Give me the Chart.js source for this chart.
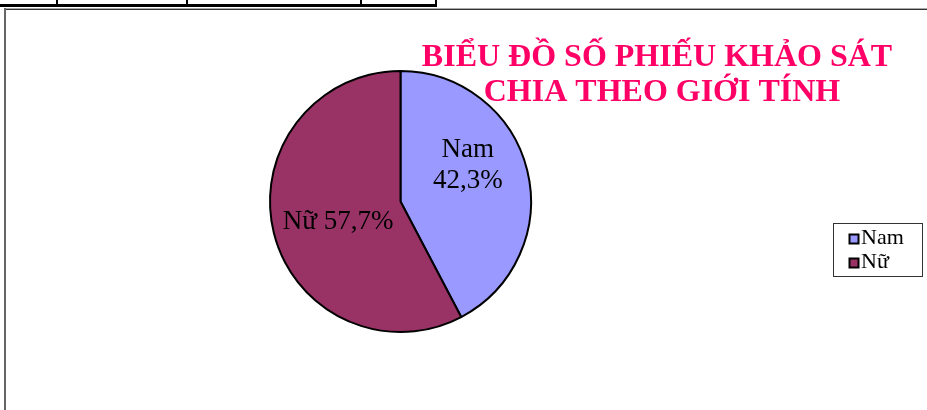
<!DOCTYPE html>
<html>
<head>
<meta charset="utf-8">
<script src="https://cdn.jsdelivr.net/npm/chart.js@4/dist/chart.umd.min.js"></script>
<style>
  html, body { margin: 0; padding: 0; background: #fff; }
  body { width: 927px; height: 410px; position: relative; overflow: hidden; }
  #c { position: absolute; left: 0; top: 0; }
  .ln { position: absolute; background: #000; }
</style>
</head>
<body>
<div class="ln" style="left:0;top:4px;width:437px;height:3px;"></div>
<div class="ln" style="left:56px;top:0;width:2px;height:7px;"></div>
<div class="ln" style="left:186px;top:0;width:2px;height:7px;"></div>
<div class="ln" style="left:360px;top:0;width:2px;height:7px;"></div>
<div class="ln" style="left:435px;top:0;width:2px;height:7px;"></div>
<div class="ln" style="left:4px;top:8px;width:923px;height:1px;background:#aaa;"></div>
<div class="ln" style="left:4px;top:9px;width:923px;height:1px;background:#333;"></div>
<div class="ln" style="left:4px;top:8px;width:2px;height:402px;background:#666;"></div>
<canvas id="c" width="927" height="410"></canvas>
<script>
const categories = ['Nam', 'Nữ'];
const values = [42.3, 57.7];
const colors = ['#9999FF', '#993366'];
const titleLines = ['BIỂU ĐỒ SỐ PHIẾU KHẢO SÁT', 'CHIA THEO GIỚI TÍNH'];
const labelStacked = [true, false];

function pctText(v) {
  const total = values.reduce((a, b) => a + b, 0);
  return (v / total * 100).toFixed(1).replace('.', ',') + '%';
}

const overlay = {
  id: 'overlay',
  afterDraw(chart) {
    const ctx = chart.ctx;
    ctx.save();
    // title
    ctx.fillStyle = '#FF0066';
    ctx.font = 'bold 32px "Liberation Serif"';
    ctx.textAlign = 'center';
    ctx.textBaseline = 'alphabetic';
    ctx.fillText(titleLines[0], 657, 66);
    ctx.fillText(titleLines[1], 662, 101);

    // data labels
    const meta = chart.getDatasetMeta(0);
    const offs = [[4, -29], [1, 12]];
    ctx.fillStyle = '#000';
    ctx.font = '27px "Liberation Serif"';
    meta.data.forEach((arc, i) => {
      const p = arc.tooltipPosition();
      const x = p.x + offs[i][0], y = p.y + offs[i][1];
      const v = values[i];
      if (labelStacked[i]) {
        ctx.fillText(categories[i], x, y);
        ctx.fillText(pctText(v), x, y + 31);
      } else {
        ctx.fillText(categories[i] + ' ' + pctText(v), x, y);
      }
    });

    // legend
    const bx = 833.5, by = 223.5, bw = 89, bh = 53;
    ctx.strokeStyle = '#333';
    ctx.lineWidth = 1;
    ctx.strokeRect(bx, by, bw, bh);
    ctx.font = '22px "Liberation Serif"';
    ctx.textAlign = 'left';
    categories.forEach((c, i) => {
      const top = 234 + i * 24;
      ctx.fillStyle = colors[i];
      ctx.fillRect(849.5, top + 0.5, 9, 9);
      ctx.strokeStyle = '#000';
      ctx.lineWidth = 2;
      ctx.strokeRect(849.5, top + 0.5, 9, 9);
      ctx.fillStyle = '#000';
      ctx.fillText(c, 861, top + 10);
    });
    ctx.restore();
  }
};

new Chart(document.getElementById('c'), {
  type: 'pie',
  data: {
    labels: categories,
    datasets: [{
      data: values,
      backgroundColor: colors,
      borderColor: '#000',
      borderWidth: 2
    }]
  },
  options: {
    responsive: false,
    animation: false,
    devicePixelRatio: 1,
    layout: { padding: { left: 269, right: 395, top: 70, bottom: 77 } },
    plugins: { legend: { display: false }, tooltip: { enabled: false }, title: { display: false } }
  },
  plugins: [overlay]
});
</script>
</body>
</html>
